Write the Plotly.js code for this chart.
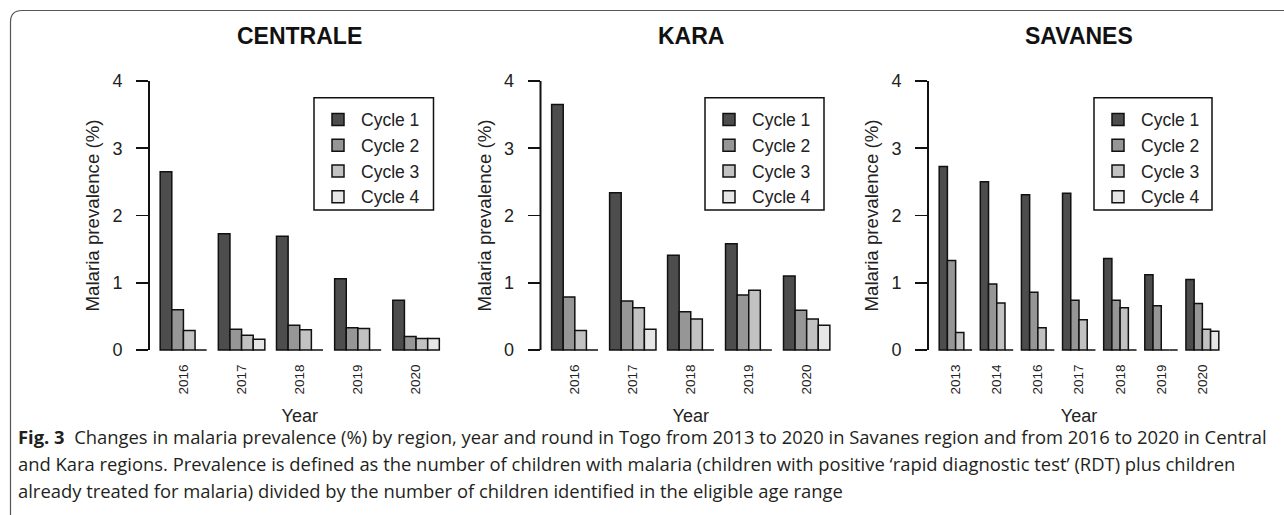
<!DOCTYPE html>
<html>
<head>
<meta charset="utf-8">
<script src="https://cdn.plot.ly/plotly-3.0.1.min.js"></script>
<style>html,body{margin:0;padding:0;background:#fff;}#chart{width:1284px;height:515px;}</style>
</head>
<body>
<div id="chart"></div>
<script>
// ---------- data ----------
const cycleNames = ['Cycle 1', 'Cycle 2', 'Cycle 3', 'Cycle 4'];
const regionTitles = ['CENTRALE', 'KARA', 'SAVANES'];

const centraleYears = ['2016', '2017', '2018', '2019', '2020'];
const centraleC1 = [2.65, 1.73, 1.69, 1.06, 0.74];
const centraleC2 = [0.60, 0.31, 0.37, 0.33, 0.20];
const centraleC3 = [0.29, 0.22, 0.30, 0.32, 0.17];
const centraleC4 = [0, 0.16, 0, 0, 0.17];

const karaYears = ['2016', '2017', '2018', '2019', '2020'];
const karaC1 = [3.65, 2.34, 1.41, 1.58, 1.10];
const karaC2 = [0.79, 0.73, 0.57, 0.82, 0.59];
const karaC3 = [0.29, 0.63, 0.46, 0.89, 0.46];
const karaC4 = [0, 0.31, 0, 0, 0.37];

const savanesYears = ['2013', '2014', '2016', '2017', '2018', '2019', '2020'];
const savanesC1 = [2.73, 2.50, 2.31, 2.33, 1.36, 1.12, 1.05];
const savanesC2 = [1.33, 0.98, 0.86, 0.74, 0.74, 0.66, 0.69];
const savanesC3 = [0.26, 0.70, 0.33, 0.45, 0.63, 0, 0.31];
const savanesC4 = [0, 0, 0, 0, 0, 0, 0.28];

const yTickVals = [0, 1, 2, 3, 4];
const yTickText = ['0', '1', '2', '3', '4'];

const captionLines = [
  '<b>Fig. 3</b>\u00a0\u00a0Changes in malaria prevalence (%) by region, year and round in Togo from 2013 to 2020 in Savanes region and from 2016 to 2020 in Central',
  'and Kara regions. Prevalence is defined as the number of children with malaria (children with positive \u2018rapid diagnostic test\u2019 (RDT) plus children',
  'already treated for malaria) divided by the number of children identified in the eligible age range'
];

// ---------- styling / layout helpers ----------
const W = 1284, H = 515;
const px = v => v / W;
const py = v => 1 - v / H;
const fills = ['#4D4D4D', '#969696', '#C2C2C2', '#E6E6E6'];
const FONT = 'Liberation Sans, Arial, Helvetica, sans-serif';

const regions = [
  {years: centraleYears, series: [centraleC1, centraleC2, centraleC3, centraleC4], dom: [149, 450.5], box: [314, 433.5]},
  {years: karaYears, series: [karaC1, karaC2, karaC3, karaC4], dom: [540.5, 841], box: [705, 824]},
  {years: savanesYears, series: [savanesC1, savanesC2, savanesC3, savanesC4], dom: [928, 1230], box: [1094, 1212]}
];

const traces = [];
const layout = {
  width: W, height: H,
  margin: {l: 0, r: 0, t: 0, b: 0},
  paper_bgcolor: '#fff', plot_bgcolor: 'rgba(0,0,0,0)',
  barmode: 'group', bargap: 0.2, bargroupgap: 0,
  font: {family: FONT, color: '#222', size: 17},
  annotations: [], shapes: []
};

regions.forEach((r, i) => {
  const sfx = i === 0 ? '' : String(i + 1);
  const legName = 'legend' + sfx;
  r.series.forEach((vals, k) => {
    traces.push({
      type: 'bar', name: cycleNames[k], x: r.years, y: vals,
      xaxis: 'x' + sfx, yaxis: 'y' + sfx, legend: legName,
      marker: {color: fills[k], line: {color: '#111', width: 1.5}},
      hoverinfo: 'skip'
    });
  });
  const n = r.years.length;
  // R barplot xlim with 4% extension, mapped to category units
  const units = n * 5 - 1;
  const ext = units * 0.04 / 5;
  layout['xaxis' + sfx] = {
    domain: [px(r.dom[0]), px(r.dom[1])], anchor: 'y' + sfx,
    type: 'category', range: [-0.4 - ext, n - 0.6 + ext],
    showline: false, showgrid: false, zeroline: false, ticks: '',
    tickangle: -90, tickfont: {size: 13.5, color: '#222', family: FONT},
    title: {text: 'Year', font: {size: 18, color: '#222', family: FONT}, standoff: 15},
    fixedrange: true
  };
  layout['yaxis' + sfx] = {
    domain: [py(360.8), py(70.2)], anchor: 'x' + sfx,
    range: [-0.16, 4.16], showline: false, showgrid: false, zeroline: false,
    tickmode: 'array', tickvals: yTickVals, ticktext: yTickText,
    ticks: 'outside', ticklen: 12, tickwidth: 1.8, tickcolor: '#111',
    ticklabelstandoff: 10,
    tickfont: {size: 18, color: '#222', family: FONT},
    title: {text: 'Malaria prevalence (%)', font: {size: 18.7, color: '#222', family: FONT}, standoff: 7},
    fixedrange: true
  };
  layout[legName] = {
    x: px(r.box[0] + 1), y: py(101.5), xanchor: 'left', yanchor: 'top',
    xref: 'paper', yref: 'paper',
    bgcolor: 'rgba(0,0,0,0)', borderwidth: 0, itemwidth: 36,
    font: {size: 17.5, color: '#222', family: FONT},
    traceorder: 'normal', itemclick: false, itemdoubleclick: false
  };
  // y axis line from 0 to 4 (R style)
  layout.shapes.push({type: 'line', xref: 'x' + sfx + ' domain', yref: 'y' + sfx,
    x0: 0, x1: 0, y0: yTickVals[0], y1: yTickVals[yTickVals.length - 1],
    line: {color: '#111', width: 2}});
  // legend frame
  layout.shapes.push({type: 'rect', xref: 'paper', yref: 'paper',
    x0: px(r.box[0]), x1: px(r.box[1]), y0: py(210), y1: py(97.7),
    line: {color: '#111', width: 1.5}});
  // panel title
  layout.annotations.push({text: '<b>' + regionTitles[i] + '</b>', xref: 'x' + sfx + ' domain', yref: 'paper',
    x: 0.5, y: py(36), xanchor: 'center', yanchor: 'middle', showarrow: false,
    font: {size: 23, color: '#111', family: FONT}});
});

// caption
const capY = [436, 463, 490];
captionLines.forEach((t, j) => {
  layout.annotations.push({text: t, xref: 'paper', yref: 'paper', x: px(16), y: py(capY[j]),
    xanchor: 'left', yanchor: 'middle', showarrow: false, align: 'left',
    font: {size: 18.4, color: '#231f20', family: 'Open Sans, Noto Sans, sans-serif'}});
});

// outer frame (top-left rounded corner)
layout.shapes.push({type: 'path', xref: 'paper', yref: 'paper',
  path: 'M ' + px(10.5) + ',' + py(515) + ' L ' + px(10.5) + ',' + py(22) +
        ' Q ' + px(10.5) + ',' + py(10.5) + ' ' + px(22) + ',' + py(10.5) +
        ' L ' + px(1284) + ',' + py(10.5),
  line: {color: '#555', width: 1.2}});

Plotly.newPlot('chart', traces, layout, {displayModeBar: false, staticPlot: true});
</script>
</body>
</html>
